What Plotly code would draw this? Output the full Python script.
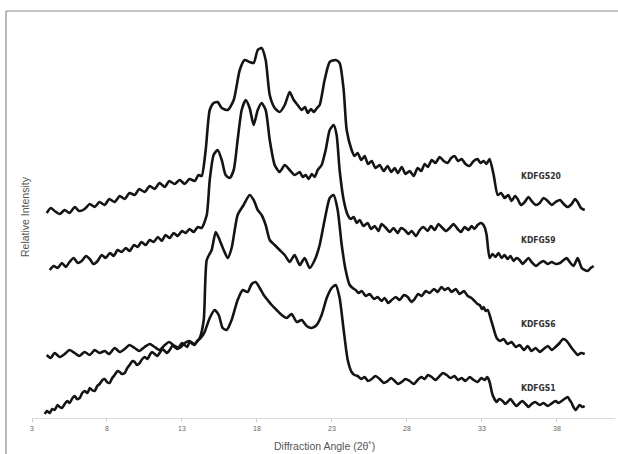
import plotly.graph_objects as go

# 2-theta (degrees) and relative intensity (arbitrary units)
s20_x = [3.98,4.25,4.51,4.85,5.18,5.5,5.85,6.15,6.51,6.85,7.18,7.5,7.85,8.15,8.51,8.85,9.18,9.5,9.85,10.15,10.51,10.85,11.18,11.5,11.85,12.15,12.51,12.85,13.18,13.5,13.85,14.1,14.31,14.58,14.85,15.11,15.38,15.65,16.05,16.45,16.85,17.18,17.51,17.78,18.05,18.31,18.58,18.85,19.18,19.51,19.85,20.18,20.45,20.71,20.98,21.2,21.38,21.6,21.78,22.0,22.18,22.51,22.85,23.25,23.51,23.78,23.98,24.31,24.5,24.71,24.95,25.18,25.4,25.65,25.9,26.18,26.45,26.71,26.95,27.18,27.4,27.65,27.9,28.18,28.45,28.71,28.95,29.18,29.4,29.65,29.9,30.18,30.45,30.71,30.95,31.18,31.4,31.65,31.9,32.18,32.45,32.71,32.9,33.11,33.3,33.51,33.78,34.05,34.28,34.51,34.75,34.98,35.2,35.38,35.6,35.85,36.1,36.31,36.6,36.85,37.1,37.38,37.65,37.91,38.2,38.45,38.7,38.98,39.2,39.38,39.6,39.85]
s20_y = [205,210,207,204,208,205,211,207,209,214,211,216,213,219,216,222,219,225,223,229,226,232,229,235,231,237,234,238,234,239,237,243,242,268,308,315,316,310,308,318,348,358,356,355,368,370,358,323,310,306,313,326,318,313,308,311,305,309,306,310,313,338,356,358,355,328,288,268,262,265,258,262,254,257,250,253,247,252,246,250,245,251,244,247,242,250,247,254,251,258,255,261,257,255,260,262,257,259,254,252,257,259,255,257,254,259,243,223,225,220,223,217,222,219,213,216,221,217,213,215,220,217,213,216,218,214,211,214,219,216,210,208]

s9_x = [4.18,4.45,4.71,5.0,5.25,5.5,5.78,6.05,6.31,6.6,6.85,7.1,7.38,7.65,7.91,8.2,8.45,8.7,8.98,9.25,9.51,9.8,10.05,10.3,10.58,10.85,11.11,11.4,11.65,11.9,12.18,12.45,12.71,13.0,13.25,13.5,13.78,14.05,14.31,14.65,14.85,15.11,15.38,15.65,15.91,16.18,16.45,16.71,16.98,17.25,17.51,17.78,18.05,18.31,18.58,18.85,19.18,19.51,19.85,20.18,20.51,20.85,21.05,21.25,21.45,21.65,21.85,22.05,22.31,22.58,22.85,23.11,23.31,23.51,23.78,24.05,24.25,24.45,24.65,24.85,25.1,25.38,25.6,25.85,26.1,26.31,26.6,26.85,27.1,27.38,27.6,27.85,28.1,28.31,28.6,28.85,29.1,29.38,29.6,29.85,30.1,30.31,30.6,30.85,31.1,31.38,31.6,31.85,32.1,32.31,32.5,32.71,32.9,33.05,33.2,33.31,33.51,33.7,33.91,34.1,34.31,34.5,34.71,34.9,35.11,35.3,35.51,35.7,35.91,36.1,36.31,36.6,36.85,37.1,37.38,37.65,37.91,38.2,38.45,38.65,38.85,39.11,39.38,39.5,39.65,39.85,40.05,40.25,40.45]
s9_y = [148,152,150,155,151,156,160,155,157,162,159,154,157,163,160,165,162,168,166,170,167,173,171,176,173,178,176,181,177,183,180,185,182,187,185,189,186,191,190,203,238,263,268,258,243,240,248,278,308,318,310,293,308,315,308,278,253,246,253,248,243,246,241,243,239,244,241,248,253,268,288,293,283,248,218,203,199,201,195,198,192,195,189,192,187,194,190,186,190,185,190,188,184,187,182,188,191,187,192,188,194,191,187,190,194,189,186,191,188,192,189,193,195,194,190,183,160,164,161,165,160,163,159,162,157,160,158,154,157,160,156,152,155,157,154,156,154,155,158,160,156,152,160,156,150,148,147,150,152]

s6_x = [3.98,4.25,4.51,4.85,5.18,5.5,5.85,6.15,6.51,6.85,7.18,7.5,7.85,8.15,8.51,8.85,9.18,9.5,9.85,10.15,10.51,10.85,11.18,11.5,11.85,12.15,12.51,12.85,13.18,13.5,13.85,14.18,14.45,14.65,14.98,15.25,15.51,15.78,16.05,16.31,16.71,17.11,17.51,17.78,18.05,18.31,18.58,18.85,19.18,19.51,19.85,20.18,20.51,20.85,21.18,21.51,21.85,22.18,22.51,22.85,23.11,23.38,23.65,23.91,24.18,24.38,24.58,24.78,24.98,25.25,25.51,25.8,26.05,26.3,26.51,26.75,26.98,27.25,27.51,27.8,28.05,28.3,28.51,28.75,28.98,29.25,29.51,29.8,30.05,30.3,30.51,30.75,30.98,31.25,31.51,31.8,32.05,32.3,32.51,32.7,32.85,33.0,33.11,33.25,33.38,33.65,33.98,34.2,34.45,34.7,34.98,35.25,35.51,35.8,36.05,36.3,36.58,36.85,37.11,37.4,37.65,37.9,38.18,38.4,38.58,38.8,38.98,39.2,39.38,39.6,39.85]
s6_y = [63,60,65,61,64,68,65,62,66,63,68,65,67,64,70,66,69,73,70,67,71,74,71,68,73,76,72,70,75,77,74,80,98,158,168,186,178,168,160,170,203,213,223,218,208,203,193,178,173,168,163,156,163,153,160,150,158,173,198,220,223,208,173,148,133,130,128,125,127,122,124,119,121,117,120,115,118,121,118,123,121,116,119,124,122,127,125,129,126,131,128,130,126,129,124,127,122,120,117,114,113,109,111,107,108,96,80,77,79,74,76,71,73,68,72,67,70,66,69,72,68,71,75,79,78,74,70,66,63,65,64]

s1_x = [3.85,4.0,4.18,4.35,4.51,4.7,4.85,5.0,5.18,5.35,5.51,5.7,5.85,6.0,6.18,6.35,6.51,6.7,6.85,7.0,7.18,7.35,7.51,7.7,7.85,8.0,8.18,8.35,8.51,8.7,8.85,9.0,9.18,9.35,9.51,9.7,9.85,10.0,10.18,10.35,10.51,10.7,10.85,11.0,11.18,11.35,11.51,11.7,11.85,12.0,12.18,12.35,12.51,12.7,12.85,13.0,13.18,13.35,13.51,13.7,13.85,14.0,14.18,14.35,14.51,14.85,15.18,15.45,15.71,15.98,16.31,16.71,17.05,17.38,17.65,17.91,18.18,18.45,18.71,18.98,19.31,19.65,19.98,20.31,20.65,20.98,21.31,21.65,21.98,22.31,22.65,22.98,23.25,23.51,23.78,24.05,24.31,24.5,24.71,24.95,25.18,25.4,25.65,25.9,26.18,26.45,26.71,26.95,27.18,27.4,27.65,27.9,28.18,28.45,28.71,28.95,29.18,29.4,29.65,29.9,30.18,30.4,30.65,30.9,31.18,31.4,31.65,31.9,32.18,32.45,32.71,32.95,33.18,33.35,33.51,33.71,33.98,34.15,34.38,34.55,34.71,34.9,35.11,35.3,35.51,35.7,35.91,36.1,36.31,36.55,36.85,37.1,37.38,37.6,37.91,38.1,38.31,38.5,38.71,38.85,38.98,39.1,39.25,39.4,39.51,39.7,39.85]
s1_y = [4,7,5,9,8,13,11,10,14,17,15,20,22,19,20,25,27,25,30,28,27,32,34,38,39,36,35,40,43,47,46,44,45,50,53,57,56,53,55,59,61,59,63,66,64,62,65,69,67,65,68,72,71,69,72,75,73,71,76,74,73,77,79,82,86,100,108,103,90,88,98,118,128,126,134,136,130,123,118,113,108,103,100,104,96,98,92,90,93,103,120,130,133,120,88,58,46,43,42,39,41,37,39,42,39,35,37,40,37,34,36,39,37,34,38,41,39,43,41,38,42,45,43,40,42,38,40,37,41,38,36,40,38,41,36,23,16,19,17,14,16,19,15,12,15,17,14,11,14,16,13,15,12,14,17,15,17,19,21,18,15,11,8,11,13,11,12]

series = [("KDFGS20", s20_x, s20_y), ("KDFGS9", s9_x, s9_y),
          ("KDFGS6", s6_x, s6_y), ("KDFGS1", s1_x, s1_y)]
label_pos = {"KDFGS20": 242, "KDFGS9": 178, "KDFGS6": 94, "KDFGS1": 30}

fig = go.Figure()
for name, xs, ys in series:
    fig.add_trace(go.Scatter(x=xs, y=ys, mode="lines", name=name,
                             line=dict(color="#141414", width=2.6, shape="spline", smoothing=0.6),
                             hoverinfo="skip"))

ann = []
for name, _, _ in series:
    ann.append(dict(x=35.5, y=label_pos[name], xref="x", yref="y", text="<b>" + name + "</b>",
                    showarrow=False, xanchor="left", yanchor="middle",
                    font=dict(family="DejaVu Sans Condensed", size=8.5, color="#333333")))
ann.append(dict(x=0.501, y=-0.072, xref="paper", yref="paper", text="Diffraction Angle (2θ˚)",
                showarrow=False, xanchor="center", yanchor="middle",
                font=dict(family="Liberation Sans", size=10.5, color="#555555")))
ann.append(dict(x=-0.012, y=0.518, xref="paper", yref="paper", text="Relative Intensity",
                showarrow=False, xanchor="center", yanchor="middle", textangle=-90,
                font=dict(family="Liberation Sans", size=10.5, color="#555555")))

fig.update_layout(
    width=618, height=454,
    margin=dict(l=32, r=3, t=30, b=36),
    paper_bgcolor="white", plot_bgcolor="white",
    showlegend=False,
    annotations=ann,
    shapes=[
        dict(type="line", xref="paper", yref="paper", x0=-0.0446, x1=-0.0446, y0=1.049, y1=-0.1,
             line=dict(color="#8c8c8c", width=1.2), layer="above"),
        dict(type="line", xref="paper", yref="paper", x0=-0.0446, x1=1.01, y0=1.049, y1=1.049,
             line=dict(color="#8c8c8c", width=1.2), layer="above"),
    ],
    xaxis=dict(range=[3, 41.87], tick0=3, dtick=5, showgrid=False, zeroline=False,
               showline=True, linecolor="#d9d9d9", linewidth=1.2,
               ticks="outside", ticklen=3, tickcolor="#cccccc",
               tickfont=dict(family="Liberation Sans", size=7, color="#666666")),
    yaxis=dict(range=[0, 388], showgrid=False, zeroline=False, showline=False,
               showticklabels=False, ticks=""),
)

fig.write_html("out.html", config={"displayModeBar": False},
               post_script="document.body.style.margin='0';document.body.style.overflow='hidden';")
